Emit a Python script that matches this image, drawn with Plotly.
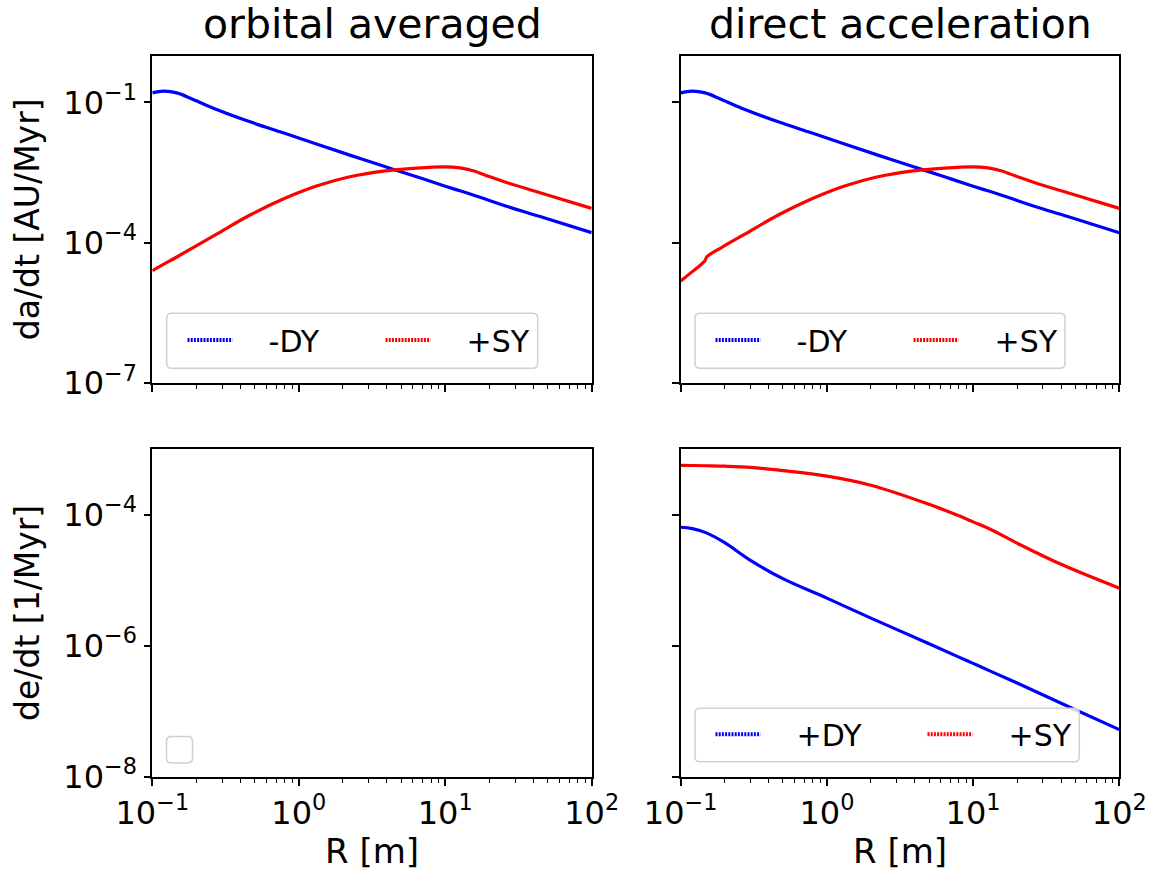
import plotly.graph_objects as go

# ---------------- data ----------------
# top row: da/dt [AU/Myr]
R_top = [0.1, 0.119, 0.147, 0.19, 0.275, 0.465, 0.783, 1.32, 2.23, 3.78, 6.38,
         10, 12.6, 15.5, 20.2, 26.2, 44.4, 100]
da_orb_DY = [1.60e-1, 1.74e-1, 1.60e-1, 1.16e-1, 7.08e-2, 3.85e-2, 2.24e-2, 1.29e-2,
             7.48e-3, 4.36e-3, 2.57e-3, 1.62e-3, 1.29e-3, 1.05e-3, 7.94e-4, 6.03e-4,
             3.63e-4, 1.64e-4]
da_orb_SY = [2.52e-5, 3.43e-5, 4.95e-5, 7.87e-5, 1.53e-4, 3.91e-4, 8.59e-4, 1.63e-3,
             2.57e-3, 3.40e-3, 3.94e-3, 4.19e-3, 3.98e-3, 3.47e-3, 2.57e-3, 1.95e-3,
             1.17e-3, 5.43e-4]

da_dir_DY = [1.60e-1, 1.74e-1, 1.60e-1, 1.16e-1, 7.08e-2, 3.85e-2, 2.24e-2, 1.29e-2,
             7.48e-3, 4.36e-3, 2.57e-3, 1.62e-3, 1.29e-3, 1.05e-3, 7.94e-4, 6.03e-4,
             3.63e-4, 1.64e-4]
R_dir_SY = [0.1, 0.116, 0.146, 0.151, 0.19, 0.275, 0.465, 0.783, 1.32, 2.23, 3.78, 6.38,
            10, 12.6, 15.5, 20.2, 26.2, 44.4, 100]
da_dir_SY = [1.52e-5, 2.21e-5, 4.07e-5, 5.01e-5, 7.87e-5, 1.53e-4, 3.91e-4, 8.59e-4,
             1.63e-3, 2.57e-3, 3.40e-3, 3.94e-3, 4.19e-3, 3.98e-3, 3.47e-3, 2.57e-3,
             1.95e-3, 1.17e-3, 5.43e-4]

# bottom row: de/dt [1/Myr]
R_bot = [0.1, 0.12, 0.15, 0.2, 0.3, 0.5, 1, 2, 5, 8, 10, 13, 20, 40, 100]
de_dir_DY = [6.40e-5, 6.10e-5, 5.25e-5, 3.72e-5, 2.00e-5, 1.05e-5, 5.30e-6, 2.63e-6,
             1.07e-6, 6.68e-7, 5.36e-7, 4.12e-7, 2.69e-7, 1.32e-7, 5.22e-8]
de_dir_SY = [5.62e-4, 5.60e-4, 5.55e-4, 5.47e-4, 5.25e-4, 4.68e-4, 3.85e-4, 2.80e-4,
             1.43e-4, 9.55e-5, 7.73e-5, 6.03e-5, 3.66e-5, 1.74e-5, 7.53e-6]

col_titles = ["orbital averaged", "direct acceleration"]
x_label = "R [m]"
y_labels = ["da/dt [AU/Myr]", "de/dt [1/Myr]"]
x_ticks = [0.1, 1, 10, 100]
x_ticktext = ["10<sup>\u22121</sup>", "10<sup>0</sup>", "10<sup>1</sup>", "10<sup>2</sup>"]
x_minor = [0.2, 0.3, 0.4, 0.5, 0.6, 0.7, 0.8, 0.9, 2, 3, 4, 5, 6, 7, 8, 9,
           20, 30, 40, 50, 60, 70, 80, 90]
y_top_ticks = [1e-7, 1e-4, 1e-1]
y_top_text = ["10<sup>\u22127</sup>", "10<sup>\u22124</sup>", "10<sup>\u22121</sup>"]
y_bot_ticks = [1e-8, 1e-6, 1e-4]
y_bot_text = ["10<sup>\u22128</sup>", "10<sup>\u22126</sup>", "10<sup>\u22124</sup>"]

# ---------------- layout geometry ----------------
W, H = 1155, 871
FONT = "DejaVu Sans"
BLUE, RED = "#0000ff", "#ff0000"
PAD = "\u00a0\u00a0\u2009\u2009"


def px_x(p):
    return p / W


def px_y(p):
    return 1 - p / H


xdom = {1: [px_x(152.3), px_x(591.7)], 2: [px_x(680.7), px_x(1119.3)]}
ydom = {1: [px_y(383.0), px_y(55.7)], 2: [px_y(776.7), px_y(449.0)]}

fig = go.Figure()


def add_line(x, y, color, ax):
    fig.add_trace(go.Scatter(
        x=x, y=y, mode="lines",
        line=dict(color=color, width=3.2, shape="spline", smoothing=1.0),
        showlegend=False, xaxis="x" + ax, yaxis="y" + ax, hoverinfo="skip"))


def add_legend_entry(name, color, ax, legend):
    fig.add_trace(go.Scatter(
        x=[None], y=[None], mode="lines", name=PAD + name,
        line=dict(color=color, width=4, dash="2px,1.2px"),
        xaxis="x" + ax, yaxis="y" + ax, legend=legend, showlegend=True))


# panel 1: top-left
add_line(R_top, da_orb_DY, BLUE, "")
add_line(R_top, da_orb_SY, RED, "")
add_legend_entry("-DY", BLUE, "", "legend")
add_legend_entry("+SY", RED, "", "legend")

# panel 2: top-right
add_line(R_top, da_dir_DY, BLUE, "2")
add_line(R_dir_SY, da_dir_SY, RED, "2")
add_legend_entry("-DY", BLUE, "2", "legend2")
add_legend_entry("+SY", RED, "2", "legend2")

# panel 3: bottom-left (empty)
fig.add_trace(go.Scatter(x=[None], y=[None], mode="lines", showlegend=False,
                         xaxis="x3", yaxis="y3"))

# panel 4: bottom-right
add_line(R_bot, de_dir_DY, BLUE, "4")
add_line(R_bot, de_dir_SY, RED, "4")
add_legend_entry("+DY", BLUE, "4", "legend3")
add_legend_entry("+SY", RED, "4", "legend3")

axis_common = dict(
    showline=True, linecolor="black", linewidth=1.6, mirror=True,
    ticks="outside", ticklen=7, tickwidth=1.6, tickcolor="black",
    showgrid=False, zeroline=False, automargin=False,
    tickfont=dict(family=FONT, size=32, color="black"),
)


def xaxis(dom, anchor, labels):
    d = dict(axis_common)
    d.update(type="log", range=[-1, 2], domain=dom, anchor=anchor,
             tickmode="array", tickvals=x_ticks, ticktext=x_ticktext,
             showticklabels=labels,
             minor=dict(tickmode="array", tickvals=x_minor, ticks="outside",
                        ticklen=4, tickwidth=1.2, tickcolor="black"))
    if labels:
        d["title"] = dict(text=x_label, font=dict(family=FONT, size=34, color="black"),
                          standoff=8)
    return d


def yaxis(dom, anchor, rng, tv, tt, labels, title=None):
    d = dict(axis_common)
    d.update(type="log", range=rng, domain=dom, anchor=anchor,
             tickmode="array", tickvals=tv, ticktext=tt, showticklabels=labels)
    if title:
        d["title"] = dict(text=title, font=dict(family=FONT, size=33, color="black"),
                          standoff=14)
    return d


legend_common = dict(
    orientation="h", xref="paper", yref="paper", xanchor="left", yanchor="top",
    bgcolor="rgba(0,0,0,0)", borderwidth=0,
    font=dict(family=FONT, size=30, color="black"),
    itemwidth=45, entrywidthmode="pixels",
)

fig.update_layout(
    width=W, height=H, margin=dict(l=0, r=0, t=0, b=0, autoexpand=False),
    paper_bgcolor="white", plot_bgcolor="white",
    font=dict(family=FONT, color="black"),
    xaxis=xaxis(xdom[1], "y", False),
    yaxis=yaxis(ydom[1], "x", [-7, 0], y_top_ticks, y_top_text, True, y_labels[0]),
    xaxis2=xaxis(xdom[2], "y2", False),
    yaxis2=yaxis(ydom[1], "x2", [-7, 0], y_top_ticks, y_top_text, False),
    xaxis3=xaxis(xdom[1], "y3", True),
    yaxis3=yaxis(ydom[2], "x3", [-8, -3], y_bot_ticks, y_bot_text, True, y_labels[1]),
    xaxis4=xaxis(xdom[2], "y4", True),
    yaxis4=yaxis(ydom[2], "x4", [-8, -3], y_bot_ticks, y_bot_text, False),
    legend=dict(legend_common, x=px_x(182.5), y=px_y(314.0), entrywidth=138),
    legend2=dict(legend_common, x=px_x(710.5), y=px_y(314.0), entrywidth=138),
    legend3=dict(legend_common, x=px_x(710.5), y=px_y(708.3), entrywidth=152),
)

# column titles
for i, t in enumerate(col_titles):
    dom = xdom[i + 1]
    fig.add_annotation(text=t, x=(dom[0] + dom[1]) / 2, y=px_y(50), xref="paper", yref="paper",
                       xanchor="center", yanchor="bottom", showarrow=False,
                       font=dict(family=FONT, size=41, color="black"))


def rounded_box(x0, y0, x1, y1, r):
    return (f"M {px_x(x0 + r)},{px_y(y0)} L {px_x(x1 - r)},{px_y(y0)} "
            f"Q {px_x(x1)},{px_y(y0)} {px_x(x1)},{px_y(y0 + r)} "
            f"L {px_x(x1)},{px_y(y1 - r)} Q {px_x(x1)},{px_y(y1)} {px_x(x1 - r)},{px_y(y1)} "
            f"L {px_x(x0 + r)},{px_y(y1)} Q {px_x(x0)},{px_y(y1)} {px_x(x0)},{px_y(y1 - r)} "
            f"L {px_x(x0)},{px_y(y0 + r)} Q {px_x(x0)},{px_y(y0)} {px_x(x0 + r)},{px_y(y0)} Z")


# legend frames (rounded, semi-transparent like the reference)
for box in [(166.7, 313.3, 537.7, 368.3), (695.0, 313.3, 1065.0, 368.3),
            (695.0, 708.3, 1079.3, 761.7), (166.5, 736.5, 192.5, 763.0)]:
    fig.add_shape(type="path", path=rounded_box(*box, 5.0), xref="paper", yref="paper",
                  layer="above", line=dict(color="#d0d0d0", width=1.5),
                  fillcolor="rgba(255,255,255,0.8)")

fig.write_html("out.html")
